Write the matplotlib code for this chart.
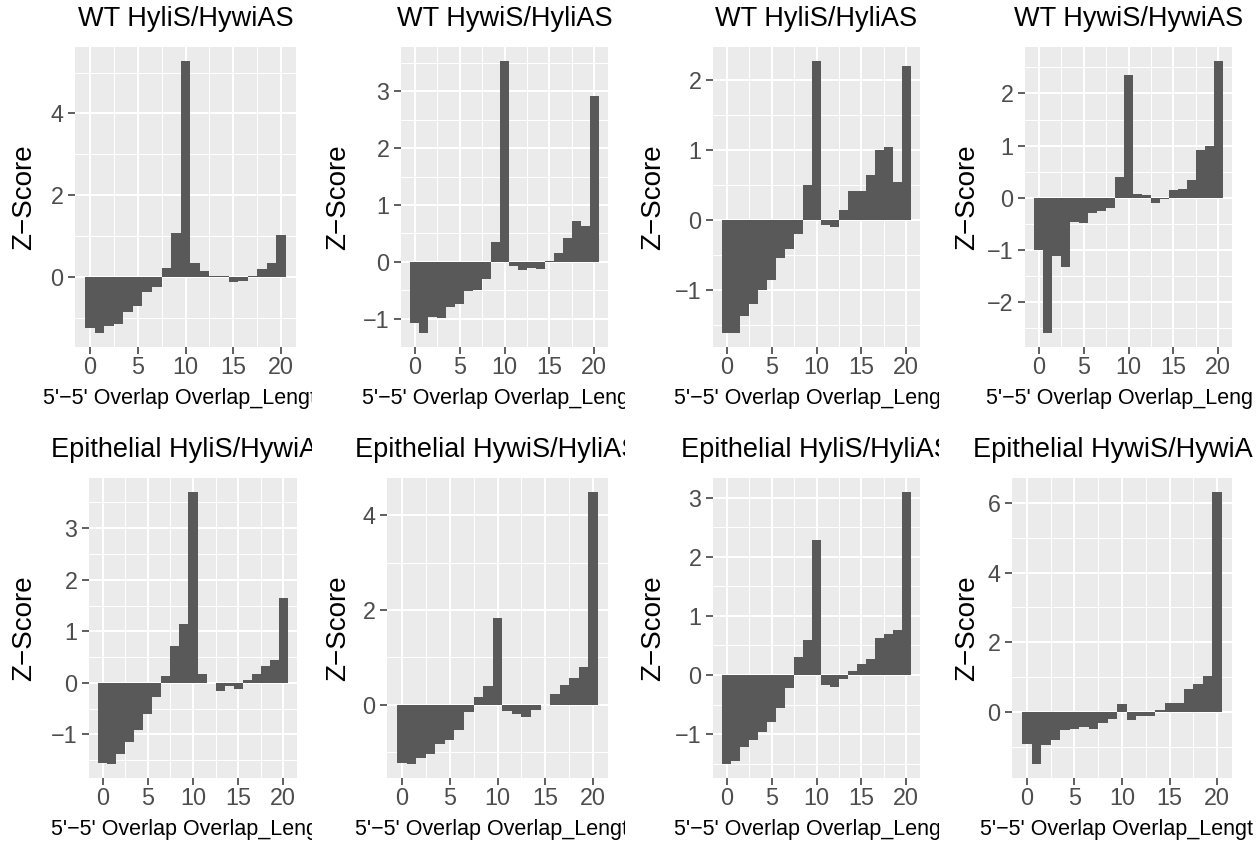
import matplotlib
matplotlib.use("Agg")
import matplotlib.pyplot as plt
from matplotlib.ticker import MultipleLocator
from matplotlib.transforms import Bbox, TransformedBbox

plt.rcParams['font.family'] = ['Liberation Sans', 'DejaVu Sans']

# overlap length 0..20
overlap = list(range(21))

wt_hylis_hywias = [-1.23, -1.37, -1.20, -1.13, -0.84, -0.71, -0.37, -0.23, 0.23, 1.09, 5.29,
                   0.34, 0.15, 0.03, 0.02, -0.11, -0.09, 0.03, 0.19, 0.35, 1.03]
wt_hywis_hylias = [-1.08, -1.26, -0.98, -0.99, -0.80, -0.75, -0.52, -0.49, -0.31, 0.34, 3.54,
                   -0.07, -0.15, -0.11, -0.13, 0.02, 0.16, 0.42, 0.72, 0.63, 2.91]
wt_hylis_hylias = [-1.62, -1.62, -1.37, -1.20, -1.00, -0.86, -0.55, -0.41, -0.20, 0.49, 2.27,
                   -0.07, -0.10, 0.14, 0.41, 0.41, 0.64, 1.00, 1.04, 0.54, 2.19]
wt_hywis_hywias = [-1.00, -2.60, -1.11, -1.33, -0.47, -0.49, -0.29, -0.25, -0.20, 0.39, 2.35,
                   0.08, 0.06, -0.10, -0.03, 0.14, 0.17, 0.35, 0.92, 0.99, 2.63]
epi_hylis_hywias = [-1.56, -1.58, -1.37, -1.14, -0.92, -0.60, -0.28, 0.14, 0.71, 1.14, 3.71,
                    0.17, -0.01, -0.15, -0.06, -0.11, 0.05, 0.17, 0.32, 0.45, 1.64]
epi_hywis_hylias = [-1.24, -1.26, -1.12, -1.05, -0.84, -0.75, -0.54, -0.15, 0.16, 0.39, 1.83,
                    -0.13, -0.19, -0.25, -0.11, -0.01, 0.22, 0.41, 0.56, 0.79, 4.50]
epi_hylis_hylias = [-1.51, -1.46, -1.22, -1.09, -0.96, -0.79, -0.55, -0.22, 0.30, 0.59, 2.29,
                    -0.17, -0.20, -0.07, 0.07, 0.18, 0.27, 0.62, 0.69, 0.76, 3.10]
epi_hywis_hywias = [-0.92, -1.51, -0.94, -0.82, -0.51, -0.48, -0.43, -0.48, -0.33, -0.20, 0.23,
                    -0.24, -0.11, -0.13, 0.06, 0.25, 0.25, 0.66, 0.80, 1.02, 6.33]

titles = ["WT HyliS/HywiAS", "WT HywiS/HyliAS", "WT HyliS/HyliAS", "WT HywiS/HywiAS",
          "Epithelial HyliS/HywiAS", "Epithelial HywiS/HyliAS",
          "Epithelial HyliS/HyliAS", "Epithelial HywiS/HywiAS"]
series = [wt_hylis_hywias, wt_hywis_hylias, wt_hylis_hylias, wt_hywis_hywias,
          epi_hylis_hywias, epi_hywis_hylias, epi_hylis_hylias, epi_hywis_hywias]
y_steps = [2, 1, 1, 1, 1, 2, 1, 2]

W, H = 1258, 843
fig = plt.figure(figsize=(W / 100, H / 100), dpi=100)

# panel boxes in pixels: left, top, right, bottom
boxes = [(75, 47, 296, 347), (401, 47, 608, 347), (713, 47, 920, 347), (1025, 47, 1232, 347),
         (89, 478, 297, 778), (387, 478, 608, 778), (713, 478, 920, 778), (1012, 478, 1232, 778)]

for i, (vals, title, step) in enumerate(zip(series, titles, y_steps)):
    row, col = divmod(i, 4)
    l, t, r, b = boxes[i]
    ax = fig.add_axes([l / W, 1 - b / H, (r - l) / W, (b - t) / H])
    ax.set_facecolor('#EBEBEB')
    ax.bar(overlap, vals, width=1.0, color='#595959', linewidth=0, zorder=3)

    lo, hi = min(0, min(vals)), max(0, max(vals))
    pad = 0.05 * (hi - lo)
    ax.set_ylim(lo - pad, hi + pad)
    ax.set_xlim(-1.55, 21.55)

    ax.xaxis.set_major_locator(MultipleLocator(5))
    ax.xaxis.set_minor_locator(MultipleLocator(2.5))
    ax.yaxis.set_major_locator(MultipleLocator(step))
    ax.yaxis.set_minor_locator(MultipleLocator(step / 2))
    ax.set_axisbelow(True)
    ax.grid(which='major', color='white', lw=1.45)
    ax.grid(which='minor', color='white', lw=0.72)
    for s in ax.spines.values():
        s.set_visible(False)
    ax.tick_params(which='major', length=4.8, width=1.1, color='#333333',
                   labelsize=16.8, labelcolor='#4D4D4D')
    ax.tick_params(axis='y', which='major', pad=3.5)
    ax.tick_params(axis='x', which='major', pad=2)
    ax.tick_params(which='minor', length=0)

    # titles and x labels are cut at the right edge of their cell, as in the original
    cell_l = col * W / 4
    cell_r = 311.5 + col * 313.9
    clip = TransformedBbox(Bbox.from_extents(cell_l / W, 0, cell_r / W, 1), fig.transFigure)

    fig.text((l + r) / 2 / W, 1 - (t - 21) / H, title, ha='center', va='baseline',
             fontsize=19.5, color='black', clip_box=clip, clip_on=True)
    fig.text((l + r) / 2 / W, 1 - (b + 57.5) / H, "5'\u22125' Overlap Overlap_Length",
             ha='center', va='baseline', fontsize=15.5, color='black',
             clip_box=clip, clip_on=True)
    fig.text((cell_l + 24) / W, 1 - (t + b) / 2 / H, "Z\u2212Score", rotation=90,
             ha='center', va='center', fontsize=20, color='black')

fig.savefig('out.png', dpi=100)
